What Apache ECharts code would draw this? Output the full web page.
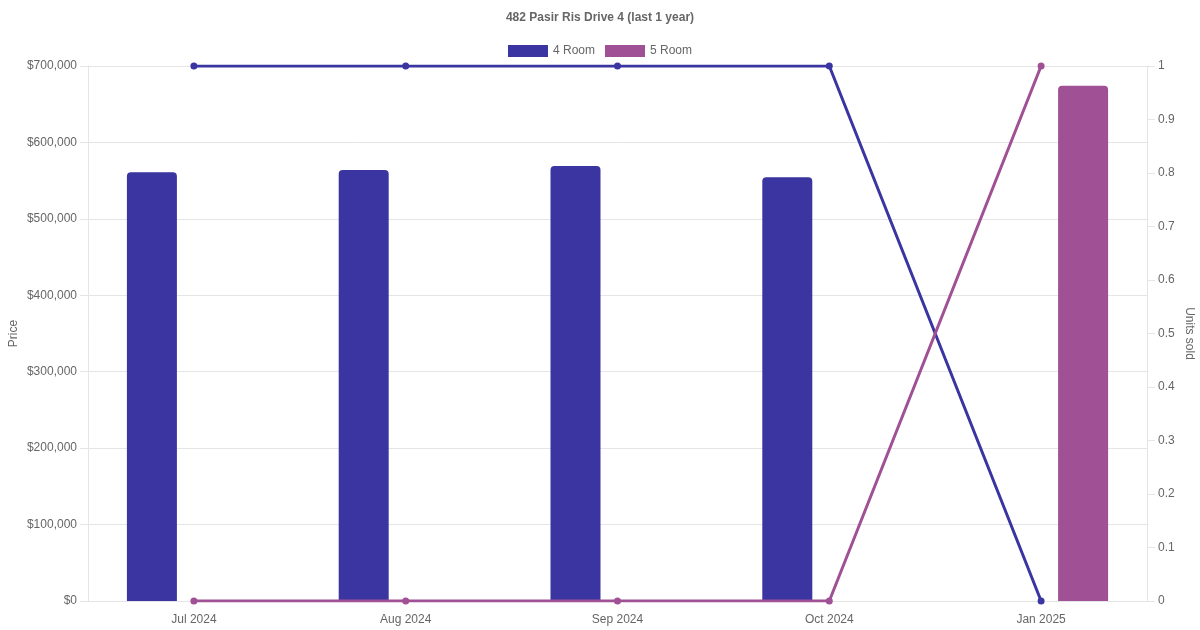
<!DOCTYPE html>
<html>
<head>
<meta charset="utf-8">
<script src="https://cdn.jsdelivr.net/npm/echarts@6/dist/echarts.min.js"></script>
<style>
  html, body { margin: 0; padding: 0; background: #fff; }
  #chart { width: 1200px; height: 630px; }
</style>
</head>
<body>
<div id="chart"></div>
<script>
const months = ["Jul 2024", "Aug 2024", "Sep 2024", "Oct 2024", "Jan 2025"];
const price4Room = [561000, 564000, 569000, 554500, null];
const price5Room = [null, null, null, null, 674000];
const units4Room = [1, 1, 1, 1, 0];
const units5Room = [0, 0, 0, 0, 1];

const color4 = "#3a35a0";
const color5 = "#a05094";
const font = "'Liberation Sans', Arial, sans-serif";
const gridColor = "#e5e5e5";

const fmtMoney = (v) => "$" + v.toLocaleString("en-US");

const chart = echarts.init(document.getElementById("chart"));
chart.setOption({
  animation: false,
  textStyle: { fontFamily: font },
  title: {
    text: "482 Pasir Ris Drive 4 (last 1 year)",
    left: "center",
    top: 7,
    textStyle: { fontSize: 12, fontWeight: "bold", color: "#666", fontFamily: font },
  },
  legend: {
    top: 40,
    left: "center",
    icon: "rect",
    itemWidth: 40,
    itemHeight: 12,
    itemGap: 10,
    textStyle: { fontSize: 12, color: "#666", fontFamily: font },
    data: ["4 Room", "5 Room"],
  },
  grid: {
    left: 88, right: 53, top: 66, bottom: 29,
    containLabel: false,
    outerBoundsMode: "none",
  },
  xAxis: {
    type: "category",
    data: months,
    boundaryGap: true,
    axisLine: { show: true, lineStyle: { color: gridColor } },
    axisTick: { show: false },
    axisLabel: { color: "#666", fontSize: 12, margin: 13 },
    splitLine: { show: false },
  },
  yAxis: [
    {
      type: "value",
      min: 0,
      max: 700000,
      interval: 100000,
      name: "Price",
      nameLocation: "middle",
      nameRotate: 90,
      nameGap: 68,
      nameMoveOverlap: false,
      nameTextStyle: { color: "#666", fontSize: 12 },
      axisLine: { show: true, lineStyle: { color: gridColor } },
      axisTick: { show: true, length: 8, lineStyle: { color: gridColor } },
      axisLabel: { color: "#666", fontSize: 12, margin: 11, formatter: fmtMoney },
      splitLine: { show: true, lineStyle: { color: gridColor } },
    },
    {
      type: "value",
      min: 0,
      max: 1,
      interval: 0.1,
      position: "right",
      name: "Units sold",
      nameLocation: "middle",
      nameRotate: -90,
      nameGap: 36,
      nameMoveOverlap: false,
      nameTextStyle: { color: "#666", fontSize: 12 },
      axisLine: { show: true, lineStyle: { color: gridColor } },
      axisTick: { show: true, length: 8, lineStyle: { color: gridColor } },
      axisLabel: { color: "#666", fontSize: 12, margin: 11 },
      splitLine: { show: false },
    },
  ],
  series: [
    {
      name: "4 Room",
      type: "bar",
      data: price4Room,
      barWidth: 50,
      barGap: "68%",
      itemStyle: { color: color4, borderRadius: [4, 4, 0, 0] },
      z: 2,
    },
    {
      name: "5 Room",
      type: "bar",
      data: price5Room,
      barWidth: 50,
      barGap: "68%",
      itemStyle: { color: color5, borderRadius: [4, 4, 0, 0] },
      z: 2,
    },
    {
      name: "4 Room",
      type: "line",
      yAxisIndex: 1,
      data: units4Room,
      symbol: "circle",
      symbolSize: 7,
      lineStyle: { color: color4, width: 3 },
      itemStyle: { color: color4 },
      z: 3,
    },
    {
      name: "5 Room",
      type: "line",
      yAxisIndex: 1,
      data: units5Room,
      symbol: "circle",
      symbolSize: 7,
      lineStyle: { color: color5, width: 3 },
      itemStyle: { color: color5 },
      z: 4,
    },
  ],
});
</script>
</body>
</html>
